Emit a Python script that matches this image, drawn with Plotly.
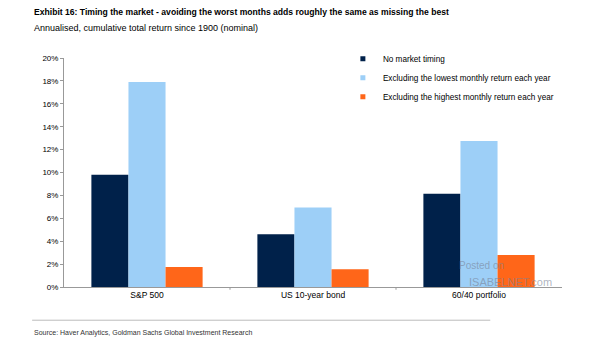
import plotly.graph_objects as go

categories = ["S&P 500", "US 10-year bond", "60/40 portfolio"]
series_names = [
    "No market timing",
    "Excluding the lowest monthly return each year",
    "Excluding the highest monthly return each year",
]
no_timing = [9.8, 4.6, 8.15]
excl_lowest = [17.9, 6.95, 12.75]
excl_highest = [1.75, 1.55, 2.8]
colors = ["#00214A", "#9DCFF7", "#FF6619"]
y_ticks = [0, 2, 4, 6, 8, 10, 12, 14, 16, 18, 20]
y_tick_labels = [f"{v}%" for v in y_ticks]

FONT = "Liberation Sans, Arial, sans-serif"

fig = go.Figure()
for name, vals, col in zip(series_names, [no_timing, excl_lowest, excl_highest], colors):
    fig.add_trace(go.Bar(x=categories, y=vals, name=name, marker_color=col,
                         marker_line_width=0, showlegend=False))
    fig.add_trace(go.Scatter(x=[None], y=[None], mode="markers", name=name,
                             marker=dict(symbol="square", size=5, color=col)))

fig.update_layout(
    width=605, height=341,
    margin=dict(l=64, r=43, t=58, b=54),
    paper_bgcolor="white", plot_bgcolor="white",
    barmode="group", bargap=0.33, bargroupgap=0,
    font=dict(family=FONT, size=8, color="#000"),
    showlegend=True,
    legend=dict(x=0.56, y=1.06, xanchor="left", yanchor="top",
                font=dict(family=FONT, size=8.2), bgcolor="rgba(0,0,0,0)",
                itemwidth=30, tracegroupgap=0),
    xaxis=dict(showline=True, linecolor="#999", linewidth=1, ticks="",
               showgrid=False, tickfont=dict(size=8.5), fixedrange=True),
    yaxis=dict(range=[0, 20], tickmode="array", tickvals=y_ticks, ticktext=y_tick_labels,
               showgrid=False, zeroline=False, showline=True, linecolor="#999", linewidth=1,
               ticks="outside", ticklen=3, tickcolor="#999", tickfont=dict(size=8)),
)

# category divider ticks on the x axis
for i in range(1, len(categories)):
    fig.add_shape(type="line", xref="x", yref="paper", x0=i - 0.5, x1=i - 0.5,
                  y0=0, y1=-0.012, line=dict(color="#999", width=1))

fig.add_annotation(text="<b>Exhibit 16: Timing the market - avoiding the worst months adds roughly the same as missing the best</b>",
                   xref="paper", yref="paper", x=-0.064, y=1.20, xanchor="left", yanchor="middle",
                   showarrow=False, font=dict(family=FONT, size=8.6, color="#000"))
fig.add_annotation(text="Annualised, cumulative total return since 1900 (nominal)",
                   xref="paper", yref="paper", x=-0.064, y=1.131, xanchor="left", yanchor="middle",
                   showarrow=False, font=dict(family=FONT, size=9, color="#000"))
fig.add_annotation(text="Source: Haver Analytics, Goldman Sachs Global Investment Research",
                   xref="paper", yref="paper", x=-0.064, y=-0.2, xanchor="left", yanchor="middle",
                   showarrow=False, font=dict(family=FONT, size=7, color="#333"))
fig.add_shape(type="line", xref="paper", yref="paper", x0=-0.064, x1=0.856, y0=-0.145, y1=-0.145,
              line=dict(color="#bbb", width=1))
# watermark
fig.add_annotation(text="Posted on", xref="paper", yref="paper", x=0.79, y=0.095,
                   xanchor="left", yanchor="middle", showarrow=False,
                   font=dict(family=FONT, size=10, color="rgba(120,130,150,0.6)"))
fig.add_annotation(text="ISABELNET.com", xref="paper", yref="paper", x=0.81, y=0.02,
                   xanchor="left", yanchor="middle", showarrow=False,
                   font=dict(family=FONT, size=11, color="rgba(120,130,150,0.6)"))

fig.write_html("out.html")
